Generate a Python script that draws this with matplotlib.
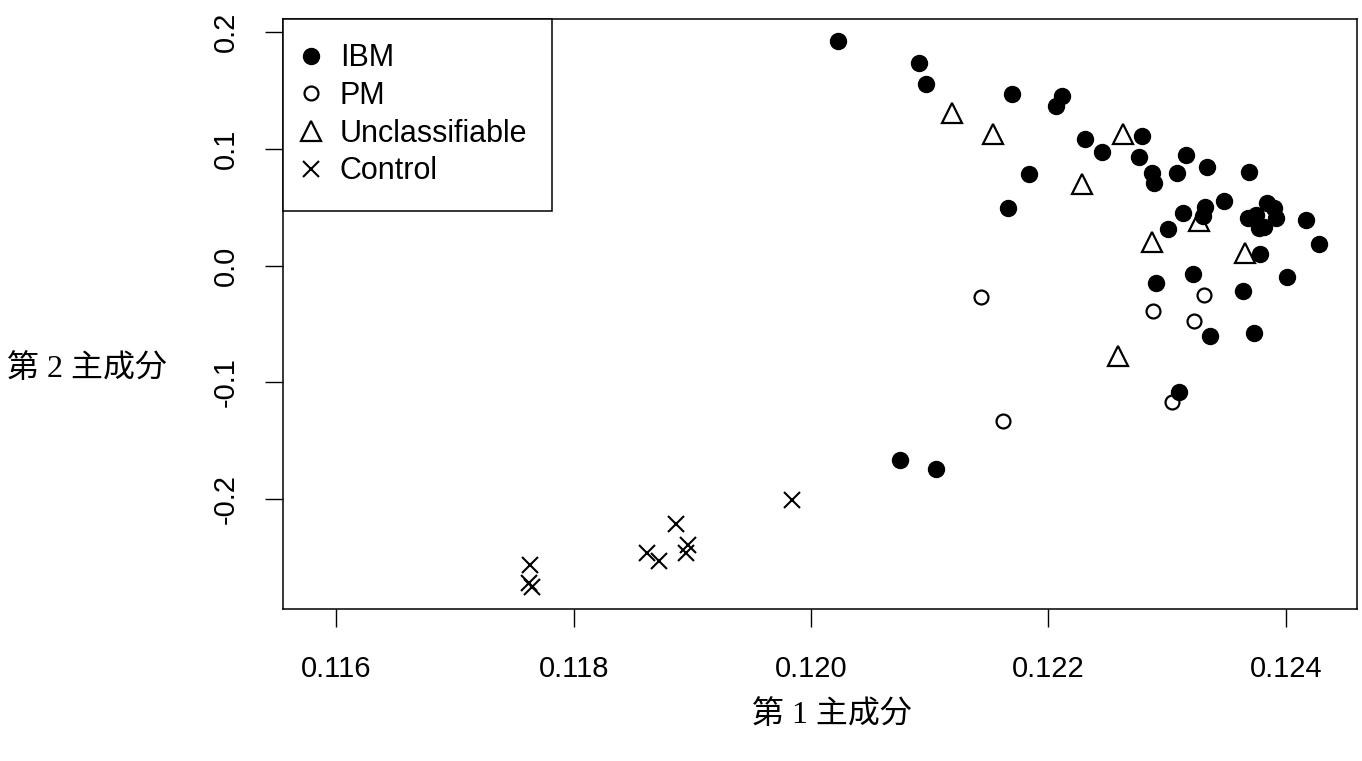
import matplotlib
matplotlib.use('Agg')
import matplotlib.pyplot as plt

# principal component scores
ibm_x = [0.12023, 0.12091, 0.12097, 0.12169, 0.12211, 0.12206, 0.12184, 0.12166,
         0.12231, 0.12245, 0.12279, 0.12276, 0.12287, 0.12289, 0.12316, 0.12308,
         0.12334, 0.12369, 0.12348, 0.12313, 0.12332, 0.12330, 0.12301, 0.12384,
         0.12390, 0.12368, 0.12375, 0.12392, 0.12377, 0.12382, 0.12417, 0.12428,
         0.12378, 0.12401, 0.12322, 0.12291, 0.12364, 0.12336, 0.12373, 0.12310,
         0.12075, 0.12105]
ibm_y = [0.1928, 0.1734, 0.1554, 0.1471, 0.1458, 0.1368, 0.0783, 0.0492,
         0.1086, 0.0977, 0.1111, 0.0929, 0.0797, 0.0711, 0.0949, 0.0792,
         0.0843, 0.0805, 0.0557, 0.0454, 0.0500, 0.0426, 0.0314, 0.0535,
         0.0492, 0.0406, 0.0434, 0.0406, 0.0320, 0.0334, 0.0392, 0.0183,
         0.0100, -0.0097, -0.0074, -0.0146, -0.0221, -0.0602, -0.0579, -0.1085,
         -0.1665, -0.1745]

pm_x = [0.12143, 0.12288, 0.12331, 0.12323, 0.12304, 0.12162]
pm_y = [-0.0266, -0.0386, -0.0251, -0.0474, -0.1165, -0.1335]

unc_x = [0.12119, 0.12153, 0.12263, 0.12228, 0.12327, 0.12287, 0.12366, 0.12259]
unc_y = [0.1308, 0.1129, 0.1129, 0.0700, 0.0383, 0.0203, 0.0109, -0.0770]

ctl_x = [0.11763, 0.11762, 0.11765, 0.11862, 0.11872, 0.11886, 0.11896, 0.11895, 0.11984]
ctl_y = [-0.2565, -0.2722, -0.2751, -0.2459, -0.2530, -0.2213, -0.2393, -0.2464, -0.2008]

x_ticks = [0.116, 0.118, 0.120, 0.122, 0.124]
x_labels = ['0.116', '0.118', '0.120', '0.122', '0.124']
y_ticks = [-0.2, -0.1, 0.0, 0.1, 0.2]
y_labels = ['-0.2', '-0.1', '0.0', '0.1', '0.2']

plt.rcParams['font.family'] = ['Liberation Sans', 'DejaVu Sans']

fig = plt.figure(figsize=(13.62, 7.61), dpi=100)
ax = fig.add_axes([283 / 1362, 1 - 609 / 761, (1357 - 283) / 1362, (609 - 19) / 761])

ax.plot(ibm_x, ibm_y, 'o', color='black', ms=11.5, ls='none', label='IBM')
ax.plot(pm_x, pm_y, 'o', mfc='none', mec='black', mew=1.6, ms=10, ls='none', label='PM')
ax.plot(unc_x, unc_y, '^', mfc='none', mec='black', mew=1.6, ms=14, ls='none', label='Unclassifiable')
ax.plot(ctl_x, ctl_y, 'x', color='black', mew=1.5, ms=11.5, ls='none', label='Control')

ax.set_xlim(0.11555, 0.12460)
ax.set_ylim(-0.2942, 0.2114)
ax.set_xticks(x_ticks)
ax.set_xticklabels(x_labels)
ax.set_yticks(y_ticks)
ax.set_yticklabels(y_labels, rotation=90, va='center')

for s in ax.spines.values():
    s.set_linewidth(1.1)
ax.tick_params(length=13, width=1.0, labelsize=21)
ax.tick_params(axis='x', pad=20)
ax.tick_params(axis='y', pad=18)

leg = ax.legend(loc='upper left', bbox_to_anchor=(0, 1), borderaxespad=0,
                fancybox=False, framealpha=1, edgecolor='black', fontsize=22,
                handlelength=0.2, handletextpad=0.86, borderpad=0.8,
                labelspacing=0.25)
leg.get_frame().set_linewidth(1.1)

cjk = ['Liberation Serif', 'Noto Sans CJK JP']
fig.text(832 / 1362, 1 - 715 / 761, '第 1 主成分', ha='center', va='center',
         fontsize=23, family=cjk)
fig.text(87 / 1362, 1 - 369 / 761, '第 2 主成分', ha='center', va='center',
         fontsize=23, family=cjk)

fig.savefig('out.png', dpi=100)
